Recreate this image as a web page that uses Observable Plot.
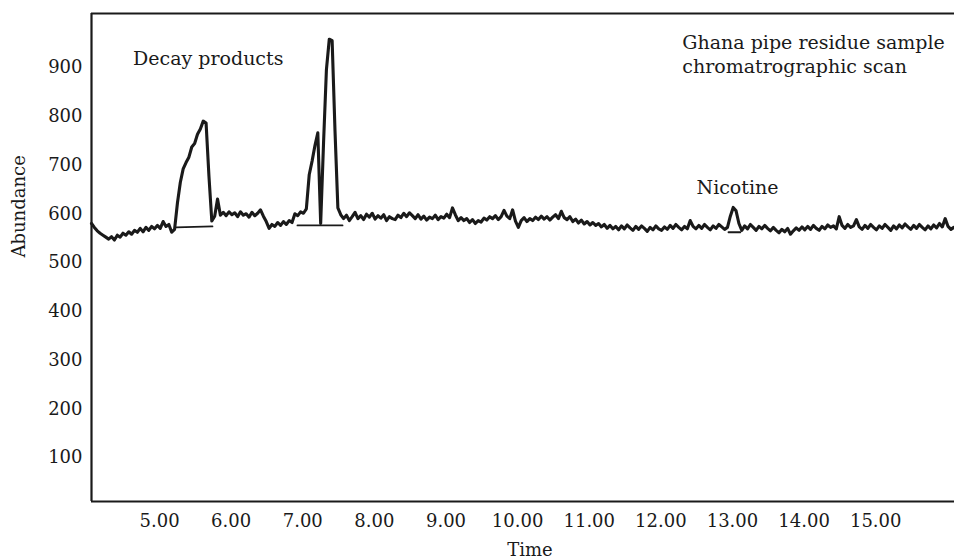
<!DOCTYPE html>
<html><head><meta charset="utf-8">
<script src="https://cdn.jsdelivr.net/npm/d3@7"></script>
<script src="https://cdn.jsdelivr.net/npm/@observablehq/plot@0.6"></script>
<style>html,body{margin:0;padding:0;background:#fff;overflow:hidden}#chart svg{display:block}</style>
</head><body><div id="chart"></div>
<script>
// Sampling grid of the scan (minutes)
const timeStart = 4.05;
const timeStep = 0.04;
// Abundance, one value per sample
const abundance = [
580,572,565,560,556,552,548,553,546,556,
552,560,556,563,558,566,562,570,563,572,
566,574,569,576,570,584,574,578,562,568,
622,664,692,705,716,737,744,763,774,790,
786,677,585,595,630,597,603,596,604,598,
602,594,604,597,600,593,603,596,601,608,
595,584,570,578,574,582,576,584,578,586,
582,600,596,604,601,610,680,708,740,766,
580,745,895,958,955,770,612,598,590,597,
586,594,603,590,596,588,599,593,601,589,
596,591,598,586,594,590,588,597,592,601,
594,602,596,590,598,589,595,587,593,590,
597,588,594,591,599,592,612,598,586,592,
586,590,582,588,580,586,583,591,587,594,
590,596,588,594,607,595,590,608,585,572,
586,592,584,590,586,593,588,595,589,594,
587,593,598,590,605,592,588,594,584,589,
581,587,579,584,577,582,576,580,573,578,
570,576,569,574,567,575,569,577,571,566,
574,568,575,570,564,572,567,575,569,566,
573,568,576,570,578,572,567,574,569,586,
574,569,576,570,578,572,567,575,570,578,
573,568,572,595,613,606,580,566,575,569,
578,572,566,574,569,576,570,565,572,566,
561,568,563,570,558,565,571,566,573,567,
574,568,576,570,566,574,569,577,572,575,
569,594,576,570,578,572,575,588,573,568,
576,570,578,572,567,575,570,578,572,566,
575,569,577,571,579,573,568,576,570,578,
572,567,575,569,577,571,580,573,590,574,
568,572
];
// Integration baselines drawn under the peaks
const basePeak = ["Decay 1","Decay 1","Decay 2","Decay 2","Nicotine","Nicotine"];
const baseTime = [5.233, 5.739, 6.926, 7.555, 12.944, 13.11];
const baseAbundance = [572, 574, 576, 576, 562, 562];
// Axis ticks
const xTicks = [5,6,7,8,9,10,11,12,13,14,15];
const yTicks = [100,200,300,400,500,600,700,800,900];
// Annotations
const peakNoteText = ["Decay products", "Nicotine"];
const peakNoteTime = [5.68, 13.07];
const peakNoteAbundance = [918, 654];
const titleText = "Ghana pipe residue sample\nchromatrographic scan";
const titleTime = 12.30;
const titleAbundance = 930;

const xDomain = [4.05, 16.10];
const yDomain = [9.7, 1010.8];

const trace = abundance.map((v, i) => ({time: timeStart + i * timeStep, abundance: v}));
const bases = basePeak.map((p, i) => ({peak: p, time: baseTime[i], abundance: baseAbundance[i]}));
const peakNotes = peakNoteText.map((t, i) => ({text: t, time: peakNoteTime[i], abundance: peakNoteAbundance[i]}));

const font = "'DejaVu Serif', serif";
const ink = "#1a1a1a";

const chart = Plot.plot({
  width: 954,
  height: 559,
  marginLeft: 91,
  marginRight: 0,
  marginTop: 13,
  marginBottom: 58,
  x: {domain: xDomain},
  y: {domain: yDomain},
  style: {fontFamily: font, fontSize: "18px", background: "#fff"},
  marks: [
    Plot.axisX({ticks: xTicks, tickFormat: d3.format(".2f"), tickSize: 0, tickPadding: 13, label: null, fontSize: 18, fill: ink}),
    Plot.axisY({ticks: yTicks, tickSize: 0, tickPadding: 9, label: null, fontSize: 18, fill: ink}),
    Plot.ruleX([xDomain[0]], {stroke: ink, strokeWidth: 2.2}),
    Plot.ruleY([yDomain[0], yDomain[1]], {stroke: ink, strokeWidth: 2.2}),
    Plot.line(bases, {x: "time", y: "abundance", z: "peak", stroke: ink, strokeWidth: 1.8}),
    Plot.line(trace, {x: "time", y: "abundance", stroke: ink, strokeWidth: 3.1, strokeLinejoin: "round"}),
    Plot.text(peakNotes, {x: "time", y: "abundance", text: "text", textAnchor: "middle", fontSize: 19, fill: ink}),
    Plot.text([titleText], {x: titleTime, y: titleAbundance, textAnchor: "start", fontSize: 19, lineHeight: 1.27, fill: ink}),
    Plot.text(["Abundance"], {frameAnchor: "left", dx: -72, rotate: -90, fontSize: 18, fill: ink}),
    Plot.text(["Time"], {frameAnchor: "bottom", dx: 7, dy: 54, fontSize: 18, fill: ink})
  ]
});
document.getElementById("chart").appendChild(chart);
</script>
</body></html>
